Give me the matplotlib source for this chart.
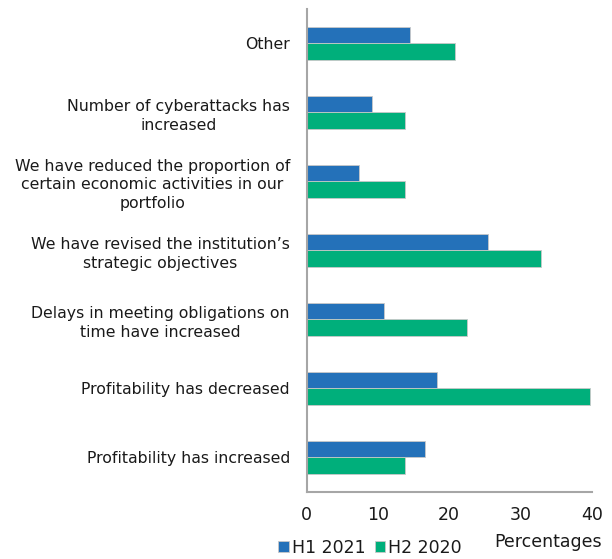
import numpy as np
import matplotlib.pyplot as plt

categories = [
    "Other",
    "Number of cyberattacks has\nincreased",
    "We have reduced the proportion of\ncertain economic activities in our\nportfolio",
    "We have revised the institution\u2019s\nstrategic objectives",
    "Delays in meeting obligations on\ntime have increased",
    "Profitability has decreased",
    "Profitability has increased",
]
h1_2021 = [14.5, 9.2, 7.4, 25.5, 10.9, 18.3, 16.6]
h2_2020 = [20.8, 13.8, 13.8, 32.9, 22.5, 39.7, 13.8]
series_names = ["H1 2021", "H2 2020"]
xticks = [0, 10, 20, 30, 40]

blue = '#2471b9'
green = '#00af7b'

fig = plt.figure(figsize=(6.12, 5.59), dpi=100)
ax = fig.add_axes([0.501, 0.12, 0.467, 0.864])

y = np.arange(len(categories))
h = 0.24
ax.barh(y - h / 2, h1_2021, height=h, color=blue, edgecolor='#c8c8c8', linewidth=0.6, label=series_names[0])
ax.barh(y + h / 2, h2_2020, height=h, color=green, edgecolor='#c8c8c8', linewidth=0.6, label=series_names[1])

ax.set_ylim(len(categories) - 0.5, -0.5)
ax.set_xlim(0, 40.1)
ax.set_yticks(y)
ax.set_yticklabels(categories, fontsize=11.3, color='#1a1a1a', multialignment='center', linespacing=1.3)
ax.set_xticks(xticks)
ax.set_xticklabels([str(t) for t in xticks], fontsize=12.5, color='#1a1a1a')
ax.tick_params(axis='y', length=0, pad=12)
ax.tick_params(axis='x', length=0, pad=10)

for s in ['top', 'right']:
    ax.spines[s].set_visible(False)
for s in ['left', 'bottom']:
    ax.spines[s].set_color('#a6a6a6')
    ax.spines[s].set_linewidth(1.5)

fig.text(0.983, 0.03, "Percentages", ha='right', va='center', fontsize=12.5, color='#1a1a1a')
fig.legend(loc='center', bbox_to_anchor=(0.605, 0.02), ncol=2, frameon=False,
           fontsize=12.5, handlelength=0.6, handleheight=0.6, handletextpad=0.2,
           columnspacing=0.5, labelcolor='#1a1a1a')

plt.savefig('out.png', dpi=100)
